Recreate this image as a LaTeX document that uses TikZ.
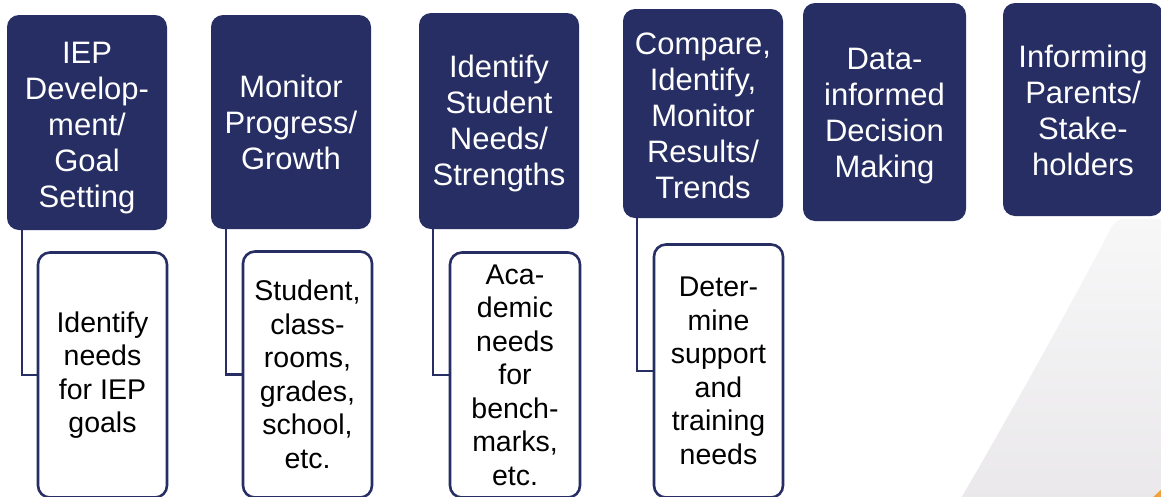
\documentclass[tikz,border=0pt]{standalone}
\usepackage{fontspec}
\setmainfont{Liberation Sans}
\definecolor{navy}{RGB}{38,46,100}
\definecolor{bgA}{RGB}{247,247,248}
\definecolor{bgB}{RGB}{234,232,234}
\definecolor{orangeS}{RGB}{240,160,60}
\tikzset{
  topbox/.style={draw=none, fill=navy, rounded corners=12pt, inner sep=0pt},
  toptext/.style={text=white, align=center, font=\fontsize{31}{36}\selectfont, inner sep=0pt},
  lowbox/.style={draw=navy, line width=2.6pt, fill=white, rounded corners=12pt, text=black, align=center,
    font=\fontsize{28.5}{33.5}\selectfont, inner sep=0pt},
  link/.style={draw=navy, line width=2.6pt}
}
\begin{document}
\begin{tikzpicture}[x=1pt,y=-1pt]
\useasboundingbox (0,0) rectangle (1161,496);
\clip (0,0) rectangle (1161,496);
\fill[white] (0,0) rectangle (1161,496);
% background decoration
\shade[top color=bgA, bottom color=bgB] (960,500) .. controls (1030,380) and (1092,265) .. (1110,230)
  .. controls (1114,222) and (1118,219) .. (1126,219) -- (1165,219) -- (1165,500) -- cycle;
\fill[orangeS] (1150,500) -- (1165,486) -- (1165,500) -- cycle;
% top boxes
\node[topbox, minimum width=160pt, minimum height=215pt] (T1) at (87,122.5) {};
\node[topbox, minimum width=160pt, minimum height=214pt] (T2) at (291,122) {};
\node[topbox, minimum width=160pt, minimum height=216pt] (T3) at (499,121) {};
\node[topbox, minimum width=160pt, minimum height=209pt] (T4) at (703,113.5) {};
\node[topbox, minimum width=163pt, minimum height=218pt] (T5) at (884.5,112) {};
\node[topbox, minimum width=160pt, minimum height=213pt] (T6) at (1083,109.5) {};
\node[toptext] (T1t) at ([yshift=-5.5pt]T1.center) {IEP\\Develop-\\ment/\\Goal\\Setting};
\node[toptext] (T2t) at ([yshift=0pt]T2.center) {Monitor\\Progress/\\Growth};
\node[toptext] (T3t) at ([yshift=-2pt]T3.center) {Identify\\Student\\Needs/\\Strengths};
\node[toptext] (T4t) at ([yshift=-2pt]T4.center) {Compare,\\Identify,\\Monitor\\Results/\\Trends};
\node[toptext] (T5t) at ([yshift=-4pt]T5.center) {Data-\\informed\\Decision\\Making};
\node[toptext] (T6t) at ([yshift=-1pt]T6.center) {Informing\\Parents/\\Stake-\\holders};
% lower boxes
\node[lowbox, minimum width=129pt, minimum height=245pt] (L1) at (102.5,375) {Identify\\needs\\for IEP\\goals};
\node[lowbox, minimum width=129pt, minimum height=246pt] (L2) at (307.5,374.5) {Student,\\class-\\rooms,\\grades,\\school,\\etc.};
\node[lowbox, minimum width=130pt, minimum height=245pt] (L3) at (515,375) {Aca-\\demic\\needs\\for\\bench-\\marks,\\etc.};
\node[lowbox, minimum width=129pt, minimum height=253pt] (L4) at (718.5,371) {Deter-\\mine\\support\\and\\training\\needs};
% connectors
\draw[link] ([xshift=15pt]T1.south west) |- (L1.west);
\draw[link] ([xshift=15pt]T2.south west) |- (L2.west);
\draw[link] ([xshift=14pt]T3.south west) |- (L3.west);
\draw[link] ([xshift=14pt]T4.south west) |- (L4.west);
\end{tikzpicture}
\end{document}
